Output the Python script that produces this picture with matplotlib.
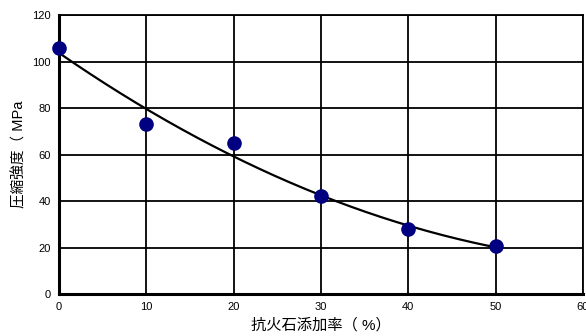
import numpy as np
import matplotlib.pyplot as plt

plt.rcParams['font.family'] = ['Liberation Sans', 'Noto Sans CJK JP', 'DejaVu Sans']

# measured points
rate = np.array([0, 10, 20, 30, 40, 50])
strength = np.array([106, 73, 65, 42, 28, 20.5])

# trend line (2nd order polynomial fit of the points)
coef = np.polyfit(rate, strength, 2)
xs = np.linspace(0, 50, 200)
ys = np.polyval(coef, xs)

fig = plt.figure(figsize=(5.86, 3.36), dpi=100)
ax = fig.add_axes([0.1007, 0.125, 0.8942, 0.830])

ax.plot(xs, ys, color='black', lw=1.6, zorder=3)
ax.plot(rate, strength, 'o', color='#000080', markersize=9.5, zorder=4, clip_on=False)

ax.set_xlim(0, 60)
ax.set_ylim(0, 120)
ax.set_xticks(np.arange(0, 61, 10))
ax.set_yticks(np.arange(0, 121, 20))
ax.grid(True, color='black', lw=1.3)
ax.set_axisbelow(True)
ax.tick_params(length=0, labelsize=8, pad=6)

for s in ['left', 'bottom']:
    ax.spines[s].set_linewidth(2.2)
for s in ['top', 'right']:
    ax.spines[s].set_linewidth(1.3)

ax.set_xlabel('抗火石添加率（ %）', fontsize=11, labelpad=4)
ax.set_ylabel('圧縮強度（ MPa', fontsize=10.5, labelpad=4)

fig.savefig('out.png', dpi=100)
